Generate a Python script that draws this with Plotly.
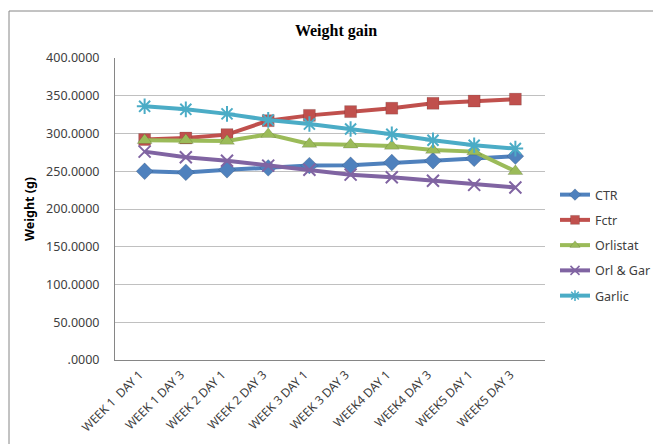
import plotly.graph_objects as go

categories = ["WEEK 1  DAY 1", "WEEK 1 DAY 3", "WEEK 2 DAY 1", "WEEK 2 DAY 3",
              "WEEK 3 DAY 1", "WEEK 3 DAY 3", "WEEK4 DAY 1", "WEEK4 DAY 3",
              "WEEK5 DAY 1", "WEEK5 DAY 3"]
ctr = [250.0, 248.5, 252.0, 254.5, 257.5, 258.0, 261.5, 264.0, 267.0, 270.0]
fctr = [292.0, 294.0, 298.5, 317.0, 324.0, 329.0, 333.5, 340.0, 343.0, 345.5]
orlistat = [291.0, 291.0, 290.0, 299.0, 286.0, 285.0, 283.5, 278.0, 276.0, 250.0]
orl_gar = [276.0, 268.5, 264.0, 257.5, 252.0, 245.5, 242.0, 237.5, 232.0, 228.5]
garlic = [336.0, 332.0, 326.0, 318.0, 312.5, 306.0, 299.0, 291.0, 284.5, 280.0]

tick_vals = [0, 50, 100, 150, 200, 250, 300, 350, 400]
tick_text = [".0000", "50.0000", "100.0000", "150.0000", "200.0000",
             "250.0000", "300.0000", "350.0000", "400.0000"]

series = [
    ("CTR", ctr, "#4F81BD", "diamond", 13),
    ("Fctr", fctr, "#C0504D", "square", 12),
    ("Orlistat", orlistat, "#9BBB59", "triangle-up", 13),
    ("Orl & Gar", orl_gar, "#8064A2", "x-thin-open", 12),
    ("Garlic", garlic, "#4BACC6", "asterisk-open", 13),
]

fig = go.Figure()
for i, (name, vals, col, sym, sz) in enumerate(series):
    open_sym = sym.endswith("open")
    mline = dict(color=col if open_sym else "rgba(0,0,0,0.25)", width=2 if open_sym else 0.5)
    fig.add_trace(go.Scatter(
        x=categories, y=vals, name=name, mode="lines+markers",
        legendgroup=f"g{i}", showlegend=False,
        line=dict(color=col, width=4),
        marker=dict(symbol=sym, size=sz, color=col, line=mline),
    ))
    # legend entry with smaller marker
    fig.add_trace(go.Scatter(
        x=[None], y=[None], name=name, mode="lines+markers",
        legendgroup=f"g{i}", showlegend=True,
        line=dict(color=col, width=4),
        marker=dict(symbol=sym, size=9, color=col,
                    line=dict(color=mline["color"], width=1.5 if open_sym else 0.5)),
    ))

OFF = 8  # page body margin
W, H = 661 - OFF, 444 - OFF
L, R, T, B = 115 - OFF, 545 - OFF, 58 - OFF, 360 - OFF

fig.update_layout(
    width=W, height=H,
    margin=dict(l=L, r=W - R, t=T, b=H - B, autoexpand=False),
    paper_bgcolor="white", plot_bgcolor="white",
    title=dict(text="<b>Weight gain</b>", x=(336 - OFF) / W, xref="container", xanchor="center",
               y=1 - (30 - OFF) / H, yref="container", yanchor="middle",
               font=dict(family="Liberation Serif", size=16, color="black")),
    font=dict(family="Noto Sans", size=12.5, color="#404040"),
    showlegend=True,
    legend=dict(x=(555 - OFF) / W, xref="container", xanchor="left",
                y=1 - (180 - OFF) / H, yref="container", yanchor="top",
                font=dict(family="Noto Sans", size=12.5, color="#404040"),
                tracegroupgap=6, itemwidth=30, bgcolor="rgba(0,0,0,0)"),
    xaxis=dict(type="category", showgrid=False, showline=True, linecolor="#868686",
               linewidth=1, tickangle=-45, ticks="", zeroline=False, automargin=False,
               ticklabelshift=-5, ticklabelstandoff=2,
               tickfont=dict(family="Noto Sans", size=12, color="#404040")),
    yaxis=dict(range=[0, 400], tickvals=tick_vals, ticktext=tick_text,
               showgrid=True, gridcolor="#C0C0C0", gridwidth=1, automargin=False,
               showline=True, linecolor="#868686", linewidth=1, zeroline=False,
               ticks="", ticklabelstandoff=12,
               title=dict(text="<b>Weight (g)</b>", standoff=8,
                          font=dict(family="Noto Sans", size=12.5, color="black"))),
)

# chart-area border
fig.add_shape(type="rect", xref="paper", yref="paper",
              x0=(9 - OFF - L) / (R - L), x1=(700 - L) / (R - L),
              y0=(B - 480) / (B - T), y1=(B - (11 - OFF)) / (B - T),
              line=dict(color="#868686", width=1), fillcolor="rgba(0,0,0,0)", layer="below")

fig.write_html("out.html")
